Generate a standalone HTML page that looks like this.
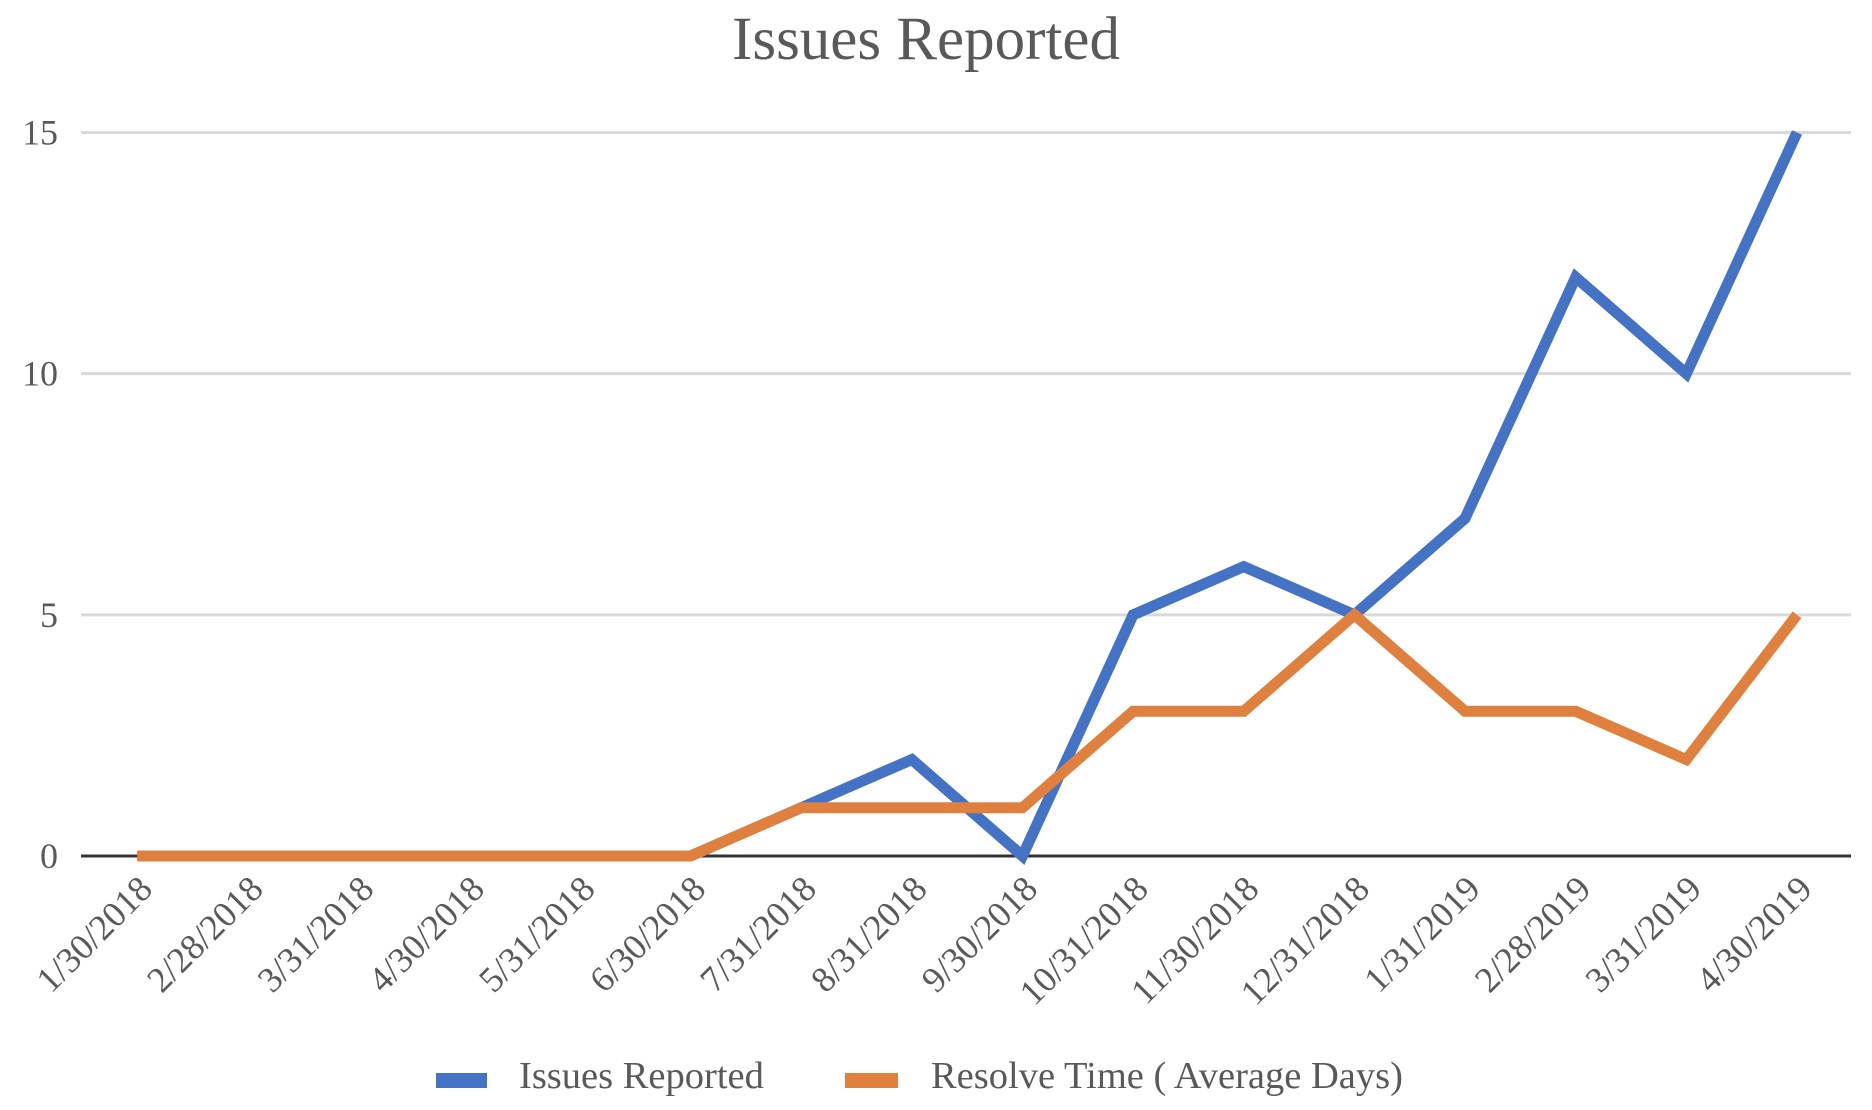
<!DOCTYPE html>
<html><head><meta charset="utf-8"><style>
body{margin:0;background:#fff;}
svg{display:block;font-family:"Liberation Serif",serif;}
</style></head><body>
<svg id="chart" width="1872" height="1110" viewBox="0 0 1872 1110">
<text x="926" y="59" font-size="61" fill="#595959" text-anchor="middle">Issues Reported</text>
<g id="grid"></g><g id="lines"></g><g id="xlabels"></g>
<g>
<rect x="436" y="1073" width="51" height="15" fill="#4472c4"/>
<text x="519" y="1088" font-size="38.5" fill="#595959">Issues Reported</text>
<rect x="845" y="1073" width="53" height="15" fill="#e0803f"/>
<text x="931" y="1088" font-size="38.5" fill="#595959">Resolve Time ( Average Days)</text>
</g>
</svg>
<script>
const categories=["1/30/2018","2/28/2018","3/31/2018","4/30/2018","5/31/2018","6/30/2018","7/31/2018","8/31/2018","9/30/2018","10/31/2018","11/30/2018","12/31/2018","1/31/2019","2/28/2019","3/31/2019","4/30/2019"];
const issues=[0,0,0,0,0,0,1,2,0,5,6,5,7,12,10,15];
const resolve=[0,0,0,0,0,0,1,1,1,3,3,5,3,3,2,5];
const yTicks=[0,5,10,15];
const NS="http://www.w3.org/2000/svg";
const x0=137.3,x1=1797,y0=856,y15=132.5,pl=81,pr=1851;
function xs(i){return x0+(x1-x0)*i/(categories.length-1);}
function ys(v){return y0+(y15-y0)*v/15;}
function mk(t,a,p){const e=document.createElementNS(NS,t);for(const k in a)e.setAttribute(k,a[k]);p.appendChild(e);return e;}
const grid=document.getElementById('grid');
yTicks.forEach(v=>{
 const l=mk('line',{x1:pl,x2:pr,y1:ys(v),y2:ys(v),stroke:v===0?'#333':'#d9d9d9','stroke-width':3},grid);
 
 
 const t=mk('text',{x:58,y:ys(v)+12,'font-size':36,fill:'#595959','text-anchor':'end'},grid);
 
 
 t.textContent=v;
});
const lines=document.getElementById('lines');
[[issues,'#4472c4','issues-line'],[resolve,'#e0803f','resolve-line']].forEach(s=>{
 const p=mk('polyline',{points:s[0].map((v,i)=>xs(i)+','+ys(v)).join(' '),fill:'none',stroke:s[1],'stroke-width':11,'stroke-linejoin':'miter'},lines);
 
 
});
const xl=document.getElementById('xlabels');
categories.forEach((c,i)=>{
 const x=xs(i)+17,y=891;
 const t=mk('text',{x:x,y:y,'font-size':36,fill:'#595959','text-anchor':'end',transform:`rotate(-45 ${x} ${y})`},xl);
 
 
 t.textContent=c;
});
</script>
</body></html>
